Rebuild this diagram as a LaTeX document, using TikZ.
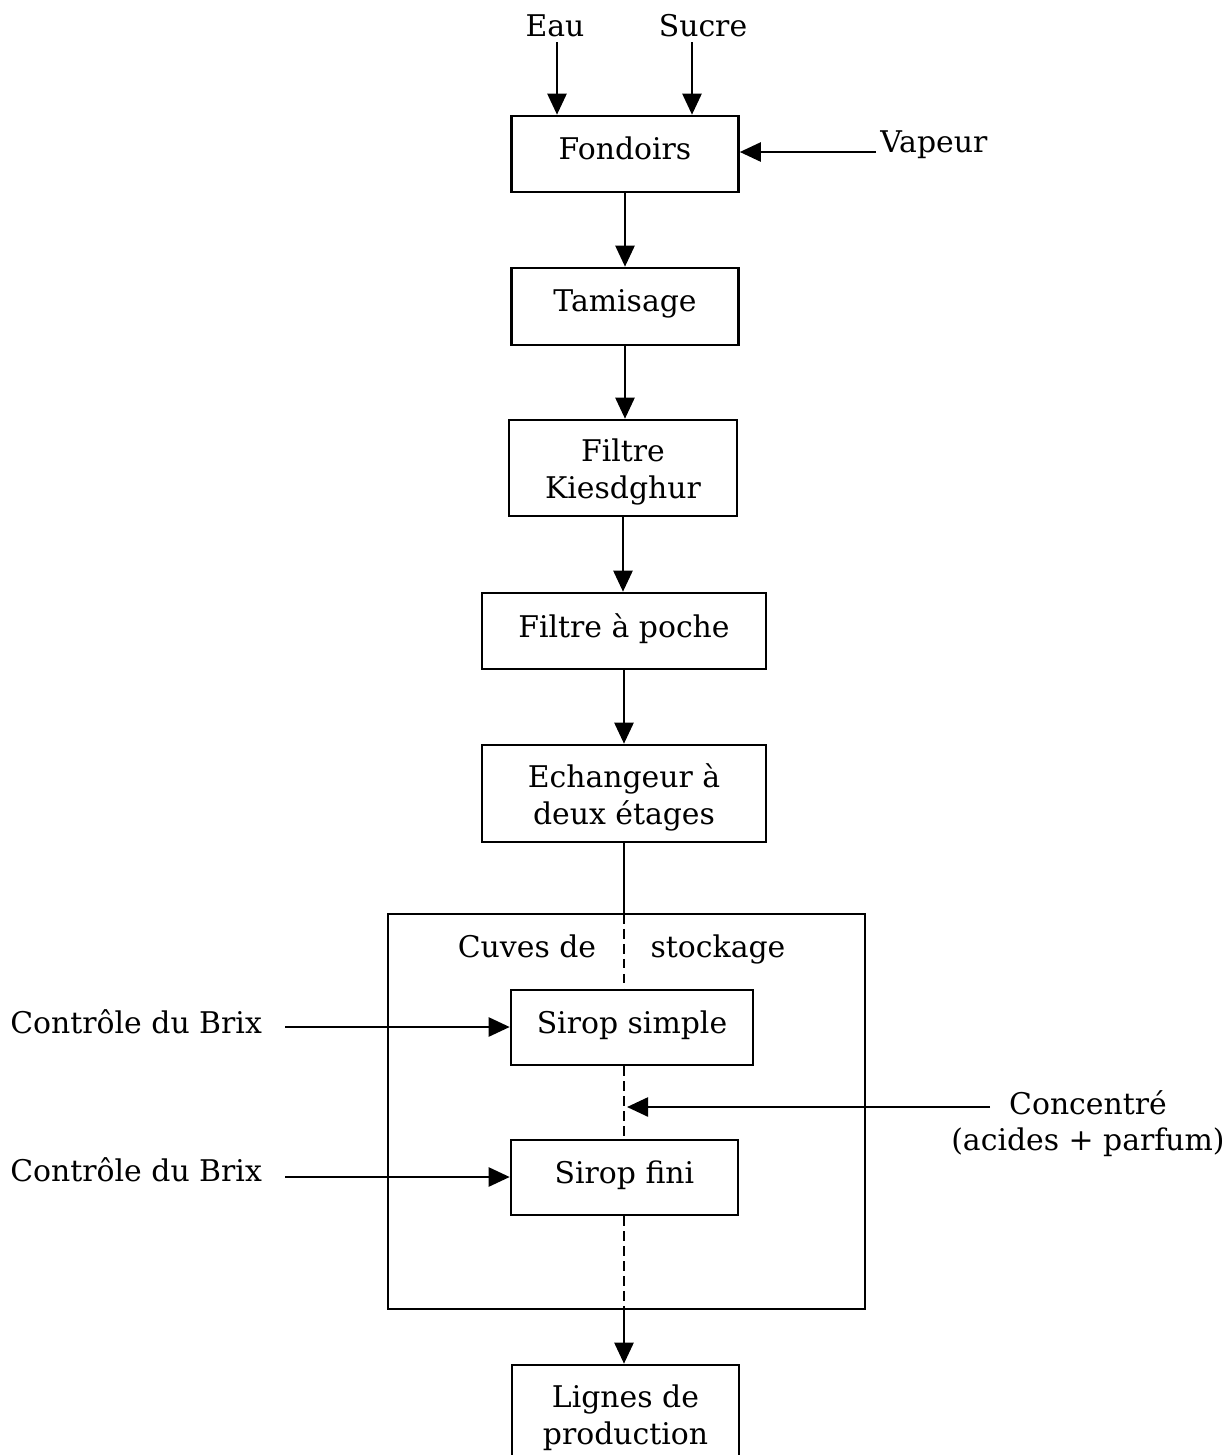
\documentclass[tikz,border=0pt]{standalone}
\usepackage{fontspec}
\setmainfont{DejaVu Serif}
\usetikzlibrary{arrows.meta}

% struts that place one-line and two-line box texts like the printed chart
\newcommand{\lowstrut}{\rule[-6.5pt]{0pt}{6.5pt}}
\newcommand{\highstrut}{\rule{0pt}{17.5pt}}

\begin{document}
\begin{tikzpicture}[x=0.02cm,y=-0.02cm,
  txt/.style={font=\fontsize{17}{21}\selectfont},
  box/.style={txt, draw, line width=1.5pt, inner sep=0pt, align=center},
  lbl/.style={txt, inner sep=0pt},
  flow/.style={line width=1.4pt, -{Triangle[length=0.42cm,width=0.38cm]}},
  link/.style={line width=1.4pt},
  dlink/.style={line width=0.9pt, dash pattern=on 5.5pt off 3pt}]

\useasboundingbox (0,0) rectangle (1228,1455);
\clip (0,0) rectangle (1228,1455);

% process steps
\node[box, minimum width=4.54cm, minimum height=1.52cm] (fond) at (625,154) {Fondoirs\lowstrut};
\node[box, minimum width=4.54cm, minimum height=1.54cm] (tam) at (625,306.5) {Tamisage\lowstrut};
\node[box, minimum width=4.56cm, minimum height=1.92cm] (kies) at (623,468) {\highstrut Filtre\\Kiesdghur};
\node[box, minimum width=5.68cm, minimum height=1.52cm] (poche) at (624,631) {Filtre à poche\lowstrut};
\node[box, minimum width=5.68cm, minimum height=1.94cm] (ech) at (624,793.5) {\highstrut Echangeur à\\deux étages};

% storage tanks
\draw[line width=1.5pt] (388,914) rectangle (865,1309);
\node[lbl, anchor=base] (cuves) at (527,957) {Cuves de};
\node[lbl, anchor=base] (stock) at (718,957) {stockage};
\node[box, minimum width=4.84cm, minimum height=1.5cm] (simple) at (632,1027.5) {Sirop simple\lowstrut};
\node[box, minimum width=4.54cm, minimum height=1.5cm] (fini) at (624.5,1177.5) {Sirop fini\lowstrut};

% output
\node[box, minimum width=4.54cm, minimum height=1.96cm] (lignes) at (625.5,1414) {\highstrut Lignes de\\production};

% inputs
\node[lbl, anchor=base] (eau) at (555,36) {Eau};
\node[lbl, anchor=base] (sucre) at (703,36) {Sucre};
\node[lbl, anchor=base west] (vap) at (880,152) {Vapeur};
\node[lbl, anchor=base west] (brix1) at (10,1033) {Contrôle du Brix};
\node[lbl, anchor=base west] (brix2) at (10,1181) {Contrôle du Brix};
\node[lbl, anchor=base] (conc) at (1088,1114) {Concentré};
\node[lbl, anchor=base] (acid) at (1088,1150) {(acides + parfum)};

% connector ends
\coordinate (eauS) at (557,42);
\coordinate (sucS) at (692,42);
\coordinate (vapS) at (876,152);
\coordinate (b1S) at (285,1027);
\coordinate (b2S) at (285,1177);
\coordinate (concS) at (990,1107);
\coordinate (concE) at (627,1107);
\coordinate (tankTop) at (624,914);
\coordinate (tankBot) at (624,1309);

% main flow
\draw[flow] (eauS) -- (eauS |- fond.north);
\draw[flow] (sucS) -- (sucS |- fond.north);
\draw[flow] (vapS) -- (vapS -| fond.east);
\draw[flow] (fond) -- (tam);
\draw[flow] (tam) -- (tam.south |- kies.north);
\draw[flow] (kies) -- (kies.south |- poche.north);
\draw[flow] (poche) -- (ech);
\draw[link] (ech.south) -- (tankTop);
\draw[dlink] (tankTop) -- (tankTop |- simple.north);
\draw[dlink] (tankTop |- simple.south) -- (tankTop |- fini.north);
\draw[dlink] (tankTop |- fini.south) -- (tankBot);
\draw[flow] (tankBot) -- (tankBot |- lignes.north);

% control and additions
\draw[flow] (b1S) -- (b1S -| simple.west);
\draw[flow] (b2S) -- (b2S -| fini.west);
\draw[flow] (concS) -- (concE);
\end{tikzpicture}
\end{document}
